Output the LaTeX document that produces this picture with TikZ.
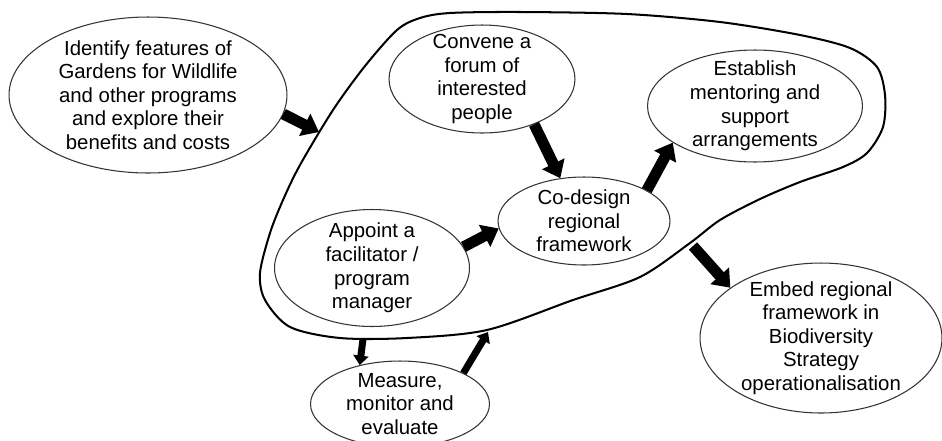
\documentclass[tikz,border=0pt]{standalone}
\usepackage{fontspec}
\setmainfont{Liberation Sans}
\usetikzlibrary{shapes.geometric,arrows.meta}

\begin{document}
\begin{tikzpicture}[
  x=0.02cm, y=-0.02cm,
  stage/.style={
    ellipse, draw=black!80, fill=white, line width=0.6pt,
    inner sep=-6pt, align=center,
    font=\fontsize{11.6}{13.4}\selectfont,
  },
  big arrow/.style={
    line width=2.2mm, -{Triangle[length=3.2mm,width=4.8mm]},
  },
  small arrow/.style={
    line width=1.4mm, -{Triangle[length=1.9mm,width=3mm]},
  }]
  \useasboundingbox (0,0) rectangle (942,440);
  % outline of the regional program
  \draw[line width=1.15pt] plot[smooth cycle] coordinates {
    (283,200) (300,165) (333,110) (365,66) (397,30) (420,18) (450,13)
    (520,12) (627,14) (720,22) (800,35) (850,48) (877,67) (885,95)
    (883,127) (867,153) (843,167) (800,182) (760,199) (720,220)
    (690,243) (640,277) (573,300) (487,330) (407,338) (340,338)
    (290,327) (265,300) (260,273) (270,233)};
  \coordinate (blobin) at (319,132);
  \coordinate (blobdown) at (363,339);
  \coordinate (blobup) at (488,332);
  \coordinate (blobout) at (693,246);

  \node[stage, minimum width=5.56cm, minimum height=3.12cm] (identify) at (148,95)
    {Identify features of\\Gardens for Wildlife\\and other programs\\and explore their\\benefits and costs};
  \node[stage, minimum width=3.72cm, minimum height=2.16cm] (convene) at (482,79)
    {Convene a\\forum of\\interested\\people};
  \node[stage, minimum width=4.3cm, minimum height=2.24cm] (establish) at (755,106)
    {Establish\\mentoring and\\support\\arrangements};
  \node[stage, minimum width=3.44cm, minimum height=1.76cm] (codesign) at (584,221)
    {Co-design\\regional\\framework};
  \node[stage, minimum width=3.9cm, minimum height=2.34cm] (appoint) at (372,268)
    {Appoint a\\facilitator /\\program\\manager};
  \node[stage, minimum width=3.58cm, minimum height=1.72cm] (measure) at (400,404)
    {Measure,\\monitor and\\evaluate};
  \node[stage, minimum width=4.84cm, minimum height=3cm] (embed) at (821,338)
    {Embed regional\\framework in\\Biodiversity\\Strategy\\operationalisation};

  \draw[big arrow] (identify.-8) -- (blobin);
  \draw[big arrow] (convene.-41) -- (codesign.119);
  \draw[big arrow] (codesign.26) -- (establish.204);
  \draw[big arrow] (appoint.13) -- (codesign.185);
  \draw[small arrow] (blobdown) -- (measure.136);
  \draw[small arrow] (measure.26) -- (blobup);
  \draw[big arrow] (blobout) -- (embed.151);
\end{tikzpicture}
\end{document}
